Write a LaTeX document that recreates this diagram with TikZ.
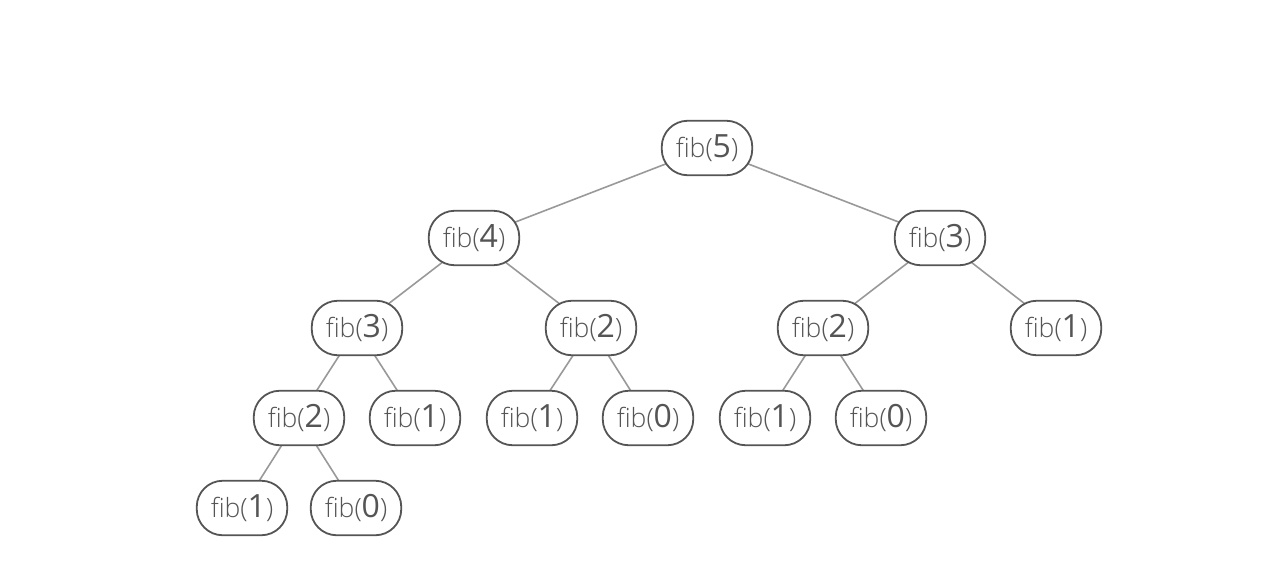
\documentclass[tikz,border=0pt]{standalone}
\usepackage{fontspec}
\setmainfont{Open Sans}
\newfontfamily\lightfont{Open Sans Light}
\usetikzlibrary{backgrounds}
\definecolor{txt}{HTML}{555555}
\definecolor{edge}{HTML}{999999}
\newcommand{\fibt}[1]{{\lightfont\fontsize{26.5}{28}\selectfont fib(}{\fontsize{32}{32}\selectfont #1}{\lightfont\fontsize{26.5}{28}\selectfont )}}
\tikzset{
  fibnode/.style={draw=txt, line width=1.8pt, fill=white, rounded corners=26pt,
    minimum width=90.5pt, minimum height=54.5pt, inner sep=0pt, text=txt},
  treeedge/.style={draw=edge, line width=1.6pt}
}
\begin{document}
\begin{tikzpicture}[x=1pt,y=-1pt]
\useasboundingbox (0,0) rectangle (1264,562);
\node[fibnode] (n5) at (707,148) {\fibt{5}};
\node[fibnode] (n4) at (474,238) {\fibt{4}};
\node[fibnode] (n3) at (940,238) {\fibt{3}};
\node[fibnode] (n43) at (357,328) {\fibt{3}};
\node[fibnode] (n42) at (591,328) {\fibt{2}};
\node[fibnode] (n32) at (823,328) {\fibt{2}};
\node[fibnode] (n31) at (1056,328) {\fibt{1}};
\node[fibnode] (n432) at (299,418) {\fibt{2}};
\node[fibnode] (n431) at (415,418) {\fibt{1}};
\node[fibnode] (n421) at (532,418) {\fibt{1}};
\node[fibnode] (n420) at (648,418) {\fibt{0}};
\node[fibnode] (n321) at (765,418) {\fibt{1}};
\node[fibnode] (n320) at (881,418) {\fibt{0}};
\node[fibnode] (n4321) at (242,508) {\fibt{1}};
\node[fibnode] (n4320) at (356,508) {\fibt{0}};
\begin{scope}[on background layer]
\draw[treeedge] (n5.center) -- (n4.center);
\draw[treeedge] (n5.center) -- (n3.center);
\draw[treeedge] (n4.center) -- (n43.center);
\draw[treeedge] (n4.center) -- (n42.center);
\draw[treeedge] (n3.center) -- (n32.center);
\draw[treeedge] (n3.center) -- (n31.center);
\draw[treeedge] (n43.center) -- (n432.center);
\draw[treeedge] (n43.center) -- (n431.center);
\draw[treeedge] (n42.center) -- (n421.center);
\draw[treeedge] (n42.center) -- (n420.center);
\draw[treeedge] (n32.center) -- (n321.center);
\draw[treeedge] (n32.center) -- (n320.center);
\draw[treeedge] (n432.center) -- (n4321.center);
\draw[treeedge] (n432.center) -- (n4320.center);
\end{scope}
\end{tikzpicture}
\end{document}
